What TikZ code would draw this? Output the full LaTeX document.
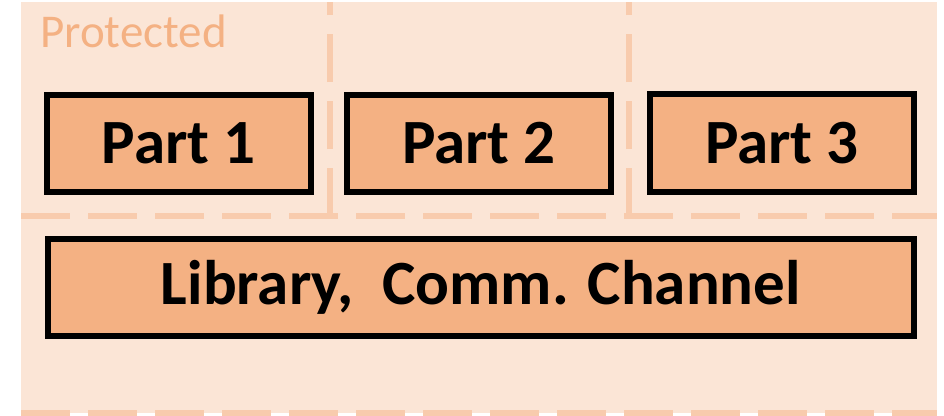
\documentclass[tikz,border=0pt]{standalone}
\usepackage{fontspec}
\setmainfont{Carlito}
\definecolor{zonefill}{HTML}{FBE5D6}
\definecolor{zoneline}{HTML}{F8CBAD}
\definecolor{partfill}{HTML}{F4B183}
\begin{document}
\begin{tikzpicture}[x=1pt,y=-1pt,
  zonedash/.style={draw=zoneline, line width=6pt, dash pattern=on 48.5pt off 18.5pt},
  partbox/.style={draw=black, line width=6pt, fill=partfill, inner sep=0pt,
    minimum height=97.3pt, font=\fontsize{63}{70}\selectfont\bfseries},
  zonelabel/.style={text=partfill, inner sep=0pt, anchor=base west,
    font=\fontsize{47}{54}\selectfont}]
  \useasboundingbox (0,0) rectangle (944,415);
  % protected zone
  \fill[zonefill] (21,2) rectangle (937,413);
  \coordinate (midL) at (21,216);
  \coordinate (midR) at (937,216);
  \coordinate (botL) at (21,413);
  \coordinate (botR) at (937,413);
  \coordinate (s1b) at (330,216);
  \coordinate (s1t) at (330,2);
  \coordinate (s2b) at (629,216);
  \coordinate (s2t) at (629,2);
  \draw[zonedash] (midL) -- (midR);
  \draw[zonedash] (botL) -- (botR);
  \draw[zonedash] (s1b) -- (s1t);
  \draw[zonedash] (s2b) -- (s2t);
  \node[zonelabel] (prot) at (40,47.7) {Protected};
  % parts and shared library
  \node[partbox, minimum width=263.7pt] (p1) at (178.9,143.4) {Part 1};
  \node[partbox, minimum width=263.7pt] (p2) at (478.9,143.4) {Part 2};
  \node[partbox, minimum width=263.7pt] (p3) at (781.9,142.9) {Part 3};
  \node[partbox, minimum width=865.7pt] (lib) at (480.9,287.8) {Library,\ \ Comm. Channel};
\end{tikzpicture}
\end{document}
